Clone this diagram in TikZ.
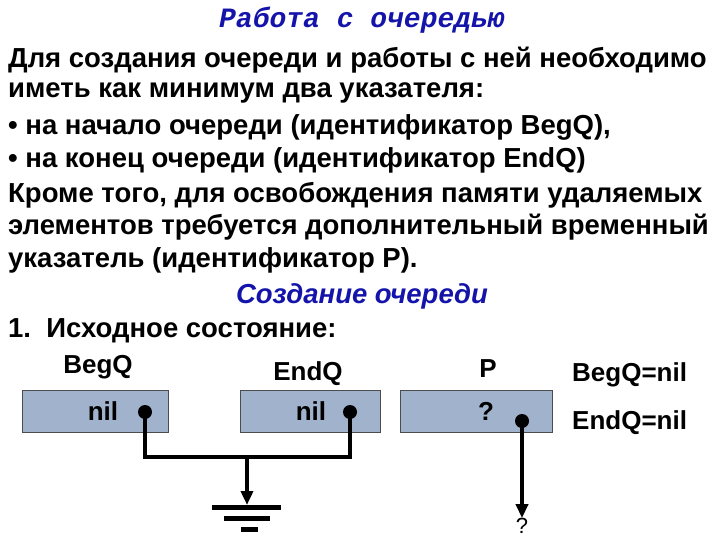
\documentclass[tikz,border=0pt]{standalone}
\usepackage{fontspec}
\setmainfont{Liberation Sans}
\newfontfamily\mono{Liberation Mono}
\usetikzlibrary{arrows.meta}
\definecolor{boxfill}{RGB}{160,178,204}
\definecolor{titleblue}{RGB}{20,20,170}
\begin{document}
\begin{tikzpicture}[x=1pt,y=-1pt,
  txt/.style={anchor=west,inner sep=0pt,font=\fontsize{27.5}{27.5}\selectfont\bfseries},
  lbl/.style={inner sep=0pt,font=\fontsize{26}{26}\selectfont\bfseries},
  cell/.style={draw=black!70,fill=boxfill,line width=0.6pt,inner sep=0pt},
  wire/.style={line width=4pt},
  dotc/.style={circle,fill=black,inner sep=0pt,minimum width=10pt,minimum height=14pt}]
\useasboundingbox (0,0) rectangle (720,540);
\node[inner sep=0pt,text=titleblue,font=\mono\fontsize{28}{28}\selectfont\bfseries\itshape] (title) at (362,20) {Работа с очередью};
\node[txt] (l1) at (8,60) {Для создания очереди и работы с ней необходимо};
\node[txt] (l2) at (8,93) {иметь как минимум два указателя:};
\node[txt] (l3) at (8,127) {• на начало очереди (идентификатор BegQ),};
\node[txt] (l4) at (8,160) {• на конец очереди (идентификатор EndQ)};
\node[txt] (l5) at (8,195) {Кроме того, для освобождения памяти удаляемых};
\node[txt] (l6) at (8,227) {элементов требуется дополнительный временный};
\node[txt] (l7) at (8,260) {указатель (идентификатор P).};
\node[lbl,text=titleblue,font=\fontsize{27.5}{27.5}\selectfont\bfseries\itshape] (sub) at (362,296) {Создание очереди};
\node[txt] (l8) at (8,331) {1.\ \ Исходное состояние:};
\node[lbl] (nb) at (98,367) {BegQ};
\node[lbl] (ne) at (308,374) {EndQ};
\node[lbl] (np) at (488,369) {P};
\node[lbl,anchor=west] (s1) at (572,375) {BegQ=nil};
\node[lbl,anchor=west] (s2) at (572,423) {EndQ=nil};
\node[cell,minimum width=146pt,minimum height=42pt] (b1) at (95,411) {};
\node[cell,minimum width=140pt,minimum height=42pt] (b2) at (310,411) {};
\node[cell,minimum width=152pt,minimum height=42pt] (b3) at (476,411) {};
\node[lbl] (t1) at (103,411) {nil};
\node[lbl] (t2) at (311,411) {nil};
\node[lbl] (t3) at (486,411) {?};
\node[dotc] (d1) at (145,412) {};
\node[dotc] (d2) at (350,412) {};
\node[dotc] (d3) at (522,421) {};
\coordinate (j) at (247,457);
\coordinate (g) at (247,505);
\draw[wire] (d1.center) |- (j) -| (d2.center);
\draw[wire,-{Triangle[length=14pt,width=12pt]}] (j) -- (g);
\draw[line width=5pt] (212,507) -- (281,507);
\draw[line width=5pt] (224,518) -- (270,518);
\draw[line width=5pt] (241,529) -- (258,529);
\node[lbl,font=\fontsize{22}{22}\selectfont] (q) at (522,526) {?};
\draw[wire,-{Triangle[length=14pt,width=12pt]}] (d3.center) -- (d3.center |- q.north);
\end{tikzpicture}
\end{document}
